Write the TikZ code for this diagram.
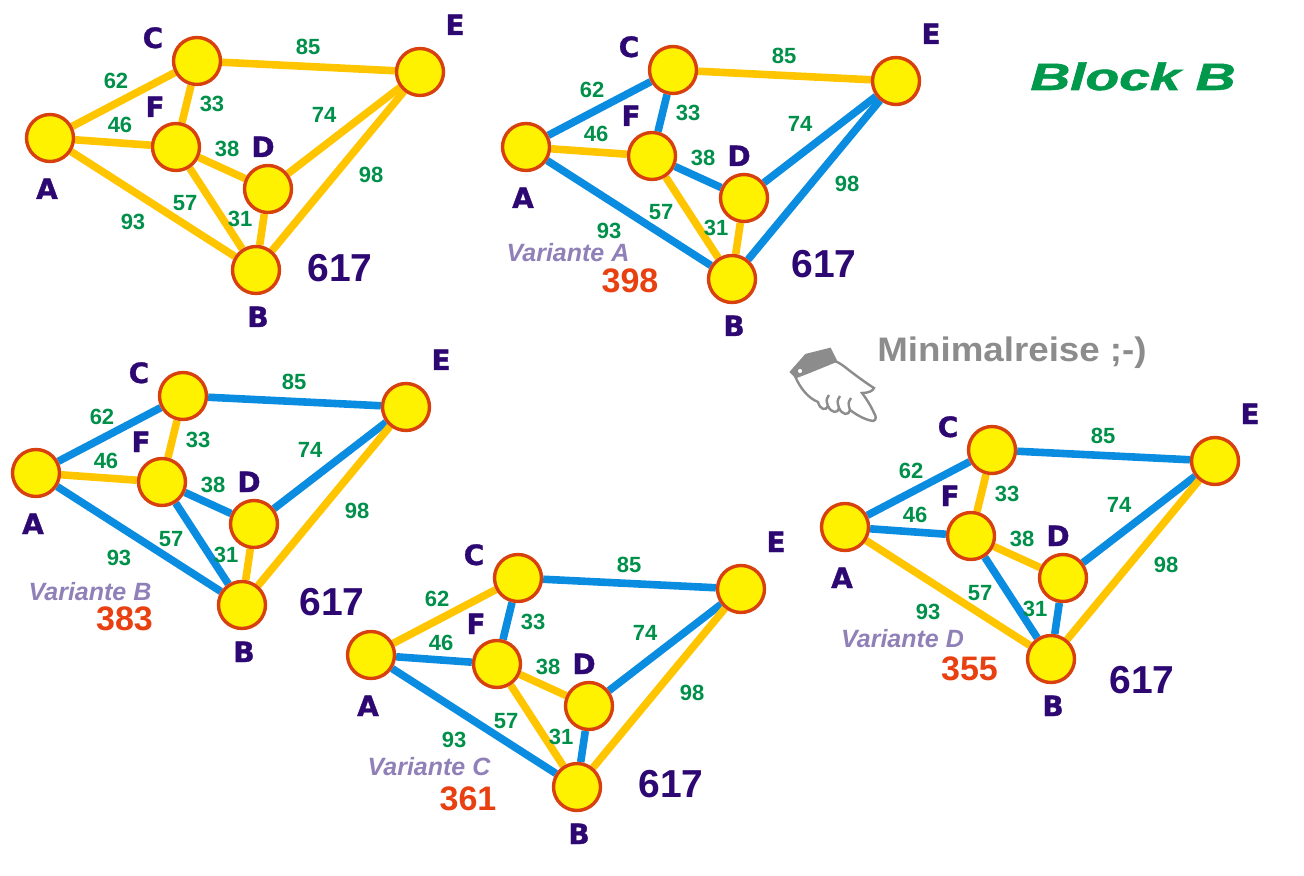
\documentclass[tikz,border=0pt]{standalone}
\usepackage{fontspec}
\setmainfont{Liberation Sans}
\newfontfamily\dickschrift{DejaVu Sans Bold}[FakeBold=1.2]
\newfontfamily\titelschrift{Liberation Sans Bold Italic}[FakeBold=1.5]
\usetikzlibrary{backgrounds}

\definecolor{gelb}{HTML}{FFC600}
\definecolor{blau}{HTML}{0A8CE0}
\definecolor{ring}{HTML}{D8400E}
\definecolor{tinte}{HTML}{2E0872}
\definecolor{gruen}{HTML}{00904A}
\definecolor{titelgruen}{HTML}{00994C}
\definecolor{lila}{HTML}{9080B8}
\definecolor{summenrot}{HTML}{E84010}
\definecolor{handgrau}{HTML}{8C8C8C}

\tikzset{
  punkt/.style={circle,draw=ring,fill=yellow,line width=1.7pt,minimum size=23.5pt,inner sep=0pt},
  kante/.style={line width=3.8pt},
  bst/.style={text=tinte,font=\dickschrift\fontsize{14}{15}\selectfont,anchor=base,inner sep=0pt},
  zahl/.style={text=gruen,font=\bfseries\fontsize{11}{12}\selectfont,anchor=base,inner sep=0pt},
  gesamt/.style={text=tinte,font=\bfseries\fontsize{19.5}{20}\selectfont,anchor=base,inner sep=0pt},
  variante/.style={text=lila,font=\bfseries\itshape\fontsize{12.5}{13}\selectfont,anchor=base,inner sep=0pt},
  summe/.style={text=summenrot,font=\bfseries\fontsize{17}{18}\selectfont,anchor=base,inner sep=0pt}
}

% ein Netz: #1 Praefix, #2 Verschiebung
\newcommand{\netz}[2]{%
  \begin{scope}[shift={#2}]
    \node[punkt] (#1A) at (50,138) {};
    \node[punkt] (#1C) at (197,61) {};
    \node[punkt] (#1E) at (420,72) {};
    \node[punkt] (#1F) at (176,147) {};
    \node[punkt] (#1D) at (268,189) {};
    \node[punkt] (#1B) at (256,270) {};
    \node[bst] (#1lA) at (47,199) {A};
    \node[bst] (#1lB) at (258,327) {B};
    \node[bst] (#1lC) at (153,48) {C};
    \node[bst] (#1lD) at (263,157) {D};
    \node[bst] (#1lE) at (455,35) {E};
    \node[bst] (#1lF) at (155,117) {F};
    \node[zahl] (#1w62) at (116,89) {62};
    \node[zahl] (#1w85) at (308,55) {85};
    \node[zahl] (#1w33) at (212,112) {33};
    \node[zahl] (#1w46) at (120,133) {46};
    \node[zahl] (#1w74) at (324,123) {74};
    \node[zahl] (#1w38) at (227,157) {38};
    \node[zahl] (#1w98) at (371,183) {98};
    \node[zahl] (#1w57) at (185,211) {57};
    \node[zahl] (#1w31) at (240,227) {31};
    \node[zahl] (#1w93) at (133,230) {93};
  \end{scope}}

% Kanten hinter die Punkte: #1 Praefix, #2 Liste u/v/Farbe
\newcommand{\kanten}[2]{%
  \begin{pgfonlayer}{background}
    \foreach \u/\v/\c in {#2}
      \draw[kante,draw=\c] (#1\u) -- (#1\v);
  \end{pgfonlayer}}

\begin{document}
\begin{tikzpicture}[x=0.5pt,y=-0.5pt]
  \useasboundingbox (0,0) rectangle (1304,876);

  % alle Kanten
  \netz{o}{(0,0)}
  \kanten{o}{A/C/gelb,A/F/gelb,A/B/gelb,C/F/gelb,C/E/gelb,
             F/D/gelb,F/B/gelb,D/B/gelb,D/E/gelb,B/E/gelb}
  \node[gesamt] (o617) at (340,282) {617};

  % Variante A
  \netz{a}{(476,9)}
  \kanten{a}{A/C/blau,A/F/gelb,A/B/blau,C/F/blau,C/E/gelb,
             F/D/blau,F/B/gelb,D/B/gelb,D/E/blau,B/E/blau}
  \node[gesamt] (a617) at (824,278) {617};
  \node[variante] (avar) at (568,262) {Variante A};
  \node[summe] (asum) at (630,293) {398};

  % Variante B
  \netz{b}{(-14,335)}
  \kanten{b}{A/C/blau,A/F/gelb,A/B/blau,C/F/gelb,C/E/blau,
             F/D/blau,F/B/blau,D/B/gelb,D/E/blau,B/E/gelb}
  \node[gesamt] (b617) at (332,615) {617};
  \node[variante] (bvar) at (90,600) {Variante B};
  \node[summe] (bsum) at (124.5,630) {383};

  % Variante C
  \netz{c}{(321,517)}
  \kanten{c}{A/C/gelb,A/F/blau,A/B/blau,C/F/blau,C/E/blau,
             F/D/gelb,F/B/gelb,D/B/blau,D/E/blau,B/E/gelb}
  \node[gesamt] (c617) at (671,797) {617};
  \node[variante] (cvar) at (429,775) {Variante C};
  \node[summe] (csum) at (468,810) {361};

  % Variante D
  \netz{d}{(795,389)}
  \kanten{d}{A/C/blau,A/F/blau,A/B/gelb,C/F/gelb,C/E/blau,
             F/D/gelb,F/B/blau,D/B/blau,D/E/blau,B/E/gelb}
  \node[gesamt] (d617) at (1142,693) {617};
  \node[variante] (dvar) at (902.5,647) {Variante D};
  \node[summe] (dsum) at (969.5,680) {355};

  % Titel
  \node[anchor=base,inner sep=0pt,text=titelgruen,
        font=\titelschrift\fontsize{19}{20}\selectfont]
        (titel) at (1133,90) {\scalebox{1.45}[1]{Block B}};
  \node[anchor=base,inner sep=0pt,text=handgrau,
        font=\bfseries\fontsize{17}{18}\selectfont]
        (minimal) at (1012,362) {\scalebox{1.08}[1]{Minimalreise ;-)}};

  % Zeigehand
  \begin{scope}[line width=1.2pt,draw=handgrau]
    \filldraw[fill=white] (795,376)
      .. controls (800,388) and (808,398) .. (818,402)
      .. controls (820,410) and (826,411) .. (828,406)
      .. controls (831,413) and (838,414) .. (839,408)
      .. controls (842,415) and (849,416) .. (850,410)
      .. controls (858,416) and (866,420) .. (873,421)
      .. controls (877,420) and (876,416) .. (874,413)
      .. controls (870,404) and (865,397) .. (862,393)
      .. controls (868,393) and (873,391) .. (874,388)
      .. controls (866,383) and (858,377) .. (850,371)
      .. controls (845,367) and (840,363) .. (835,361) -- cycle;
    \draw (828,406) .. controls (826,400) .. (829,395);
    \draw (839,408) .. controls (837,401) .. (840,396);
    \draw (850,410) .. controls (848,403) .. (851,398);
    \filldraw[fill=handgrau] (791,372) -- (806,355) -- (830,349) -- (836,361)
      -- (809,372) -- (796,377) -- cycle;
    \filldraw[fill=white] (800,371) circle[radius=3.5];
  \end{scope}
\end{tikzpicture}
\end{document}
